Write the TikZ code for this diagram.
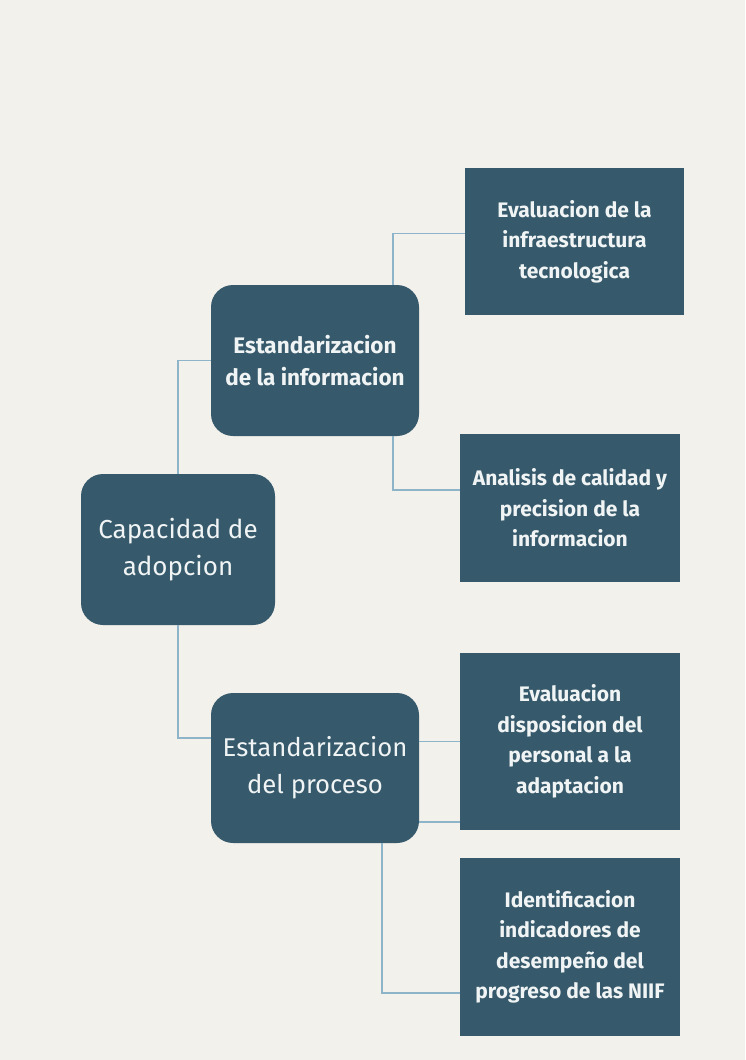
\documentclass[tikz,border=0pt]{standalone}
\usepackage{fontspec}
\setmainfont{Fira Sans}
\usepackage{xcolor}
\usepackage{tikz}
\definecolor{bgcream}{RGB}{243, 241, 236}
\definecolor{boxteal}{RGB}{54, 89, 107}
\definecolor{linkblue}{RGB}{142, 180, 202}
\definecolor{boxtext}{RGB}{240, 244, 244}

\begin{document}
\begin{tikzpicture}[x=1pt, y=-1pt,
  mainbox/.style={fill=boxteal, text=boxtext, rounded corners=22pt, align=center, inner sep=0pt},
  leafbox/.style={fill=boxteal, text=boxtext, align=center, inner sep=0pt, minimum width=220pt,
    font=\bfseries\fontsize{21}{30.5}\selectfont},
  link/.style={draw=linkblue, line width=1.5pt}]
% Background
\fill[bgcream] (0,0) rectangle (745,1060);
\useasboundingbox (0,0) rectangle (745,1060);

% Boxes
\node[mainbox, minimum width=194pt, minimum height=151pt, font=\fontsize{26}{37}\selectfont]
  (root) at (178,549.5) {Capacidad de\\adopcion};
\node[mainbox, minimum width=208pt, minimum height=151pt, font=\bfseries\fontsize{22.5}{32}\selectfont]
  (info) at (315,360.5) {Estandarizacion\\de la informacion};
\node[mainbox, minimum width=208pt, minimum height=150pt, font=\fontsize{25.7}{37}\selectfont]
  (proc) at (315,768) {Estandarizacion\\del proceso};

\node[leafbox, minimum width=219pt, minimum height=147pt] (infra) at (574.5,241.5)
  {Evaluacion de la\\infraestructura\\tecnologica};
\node[leafbox, minimum height=148pt] (calidad) at (570,508)
  {Analisis de calidad y\\precision de la\\informacion};
\node[leafbox, minimum height=177pt] (personal) at (570,741.5)
  {Evaluacion\\disposicion del\\personal a la\\adaptacion};
\node[leafbox, minimum height=178pt] (indic) at (570,947)
  {Identificacion\\indicadores de\\desempeño del\\progreso de las NIIF};

% Connectors
\draw[link] (root.north) |- (info.west);
\draw[link] (root.south) |- ([yshift=30pt]proc.west);
\draw[link] ([xshift=78pt]info.north) |- ([yshift=8pt]infra.west);
\draw[link] ([xshift=78pt]info.south) |- ([yshift=18pt]calidad.west);
\draw[link] (proc.east |- personal.west) -- (personal.west);
\coordinate (personalfoot) at ([yshift=8pt]personal.south west);
\draw[link] (proc.east |- personalfoot) -- (personalfoot);
\draw[link] ([xshift=67pt]proc.south) |- ([yshift=-46pt]indic.west);
\end{tikzpicture}
\end{document}
